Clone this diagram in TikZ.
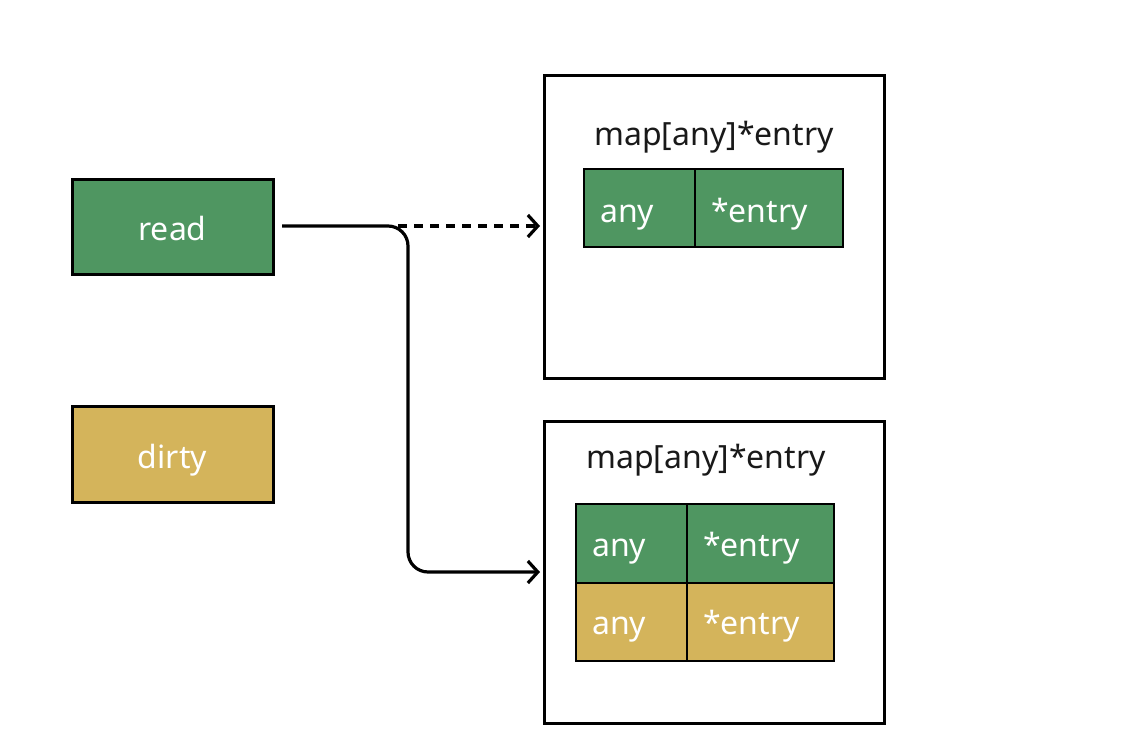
\documentclass[tikz,border=0pt]{standalone}
\usepackage{fontspec}
\setmainfont{Noto Sans}
\usetikzlibrary{arrows.meta}
\definecolor{mgreen}{HTML}{4F9661}
\definecolor{mgold}{HTML}{D4B45B}
\begin{document}
\begin{tikzpicture}[x=1pt,y=-1pt,
  bigbox/.style={draw=black,line width=3pt,fill=white},
  keybox/.style={draw=black,line width=3pt},
  keytext/.style={text=white,font=\fontsize{32}{34}\selectfont,anchor=base},
  cell/.style={draw=black,line width=1.4pt},
  celltext/.style={text=white,font=\fontsize{32}{34}\selectfont,anchor=base west,inner sep=0pt},
  title/.style={text=black!90,font=\fontsize{32}{34}\selectfont,anchor=base,inner sep=0pt},
  conn/.style={line width=3.2pt,-{Straight Barb[length=10pt,width=22pt,line width=3.2pt]}}]
\useasboundingbox (0,0) rectangle (1140,734);
\fill[white] (0,0) rectangle (1140,734);
% left keys
\draw[keybox,fill=mgreen] (72,179) rectangle (273,274);
\node[keytext] (read) at (172.5,240) {read};
\draw[keybox,fill=mgold] (72,406) rectangle (273,502);
\node[keytext] (dirty) at (172.5,468) {dirty};
% map boxes
\draw[bigbox] (544,75) rectangle (884,378);
\coordinate (m1in) at (540,226);
\node[title] (t1) at (714,145) {map[any]*entry};
\draw[bigbox] (544,421) rectangle (884,723);
\coordinate (m2in) at (540,572);
\node[title] (t2) at (706,468) {map[any]*entry};
% table 1
\draw[cell,fill=mgreen] (584,169) rectangle (695,247);
\draw[cell,fill=mgreen] (695,169) rectangle (843,247);
\node[celltext] (a1) at (600,222) {any};
\node[celltext] (e1) at (711,222) {*entry};
% table 2
\draw[cell,fill=mgreen] (576,504) rectangle (687,583);
\draw[cell,fill=mgreen] (687,504) rectangle (834,583);
\draw[cell,fill=mgold] (576,583) rectangle (687,661);
\draw[cell,fill=mgold] (687,583) rectangle (834,661);
\node[celltext] (a2) at (592,556) {any};
\node[celltext] (e2) at (703,556) {*entry};
\node[celltext] (a3) at (592,634) {any};
\node[celltext] (e3) at (703,634) {*entry};
% connectors
\coordinate (start) at (282,226);
\coordinate (bend) at (408,226);
\draw[conn,dash pattern=on 9pt off 7pt] (398,226) -- (m1in);
\draw[conn,rounded corners=20pt] (start) -- (bend) -- (408,572) -- (m2in);
\end{tikzpicture}
\end{document}
